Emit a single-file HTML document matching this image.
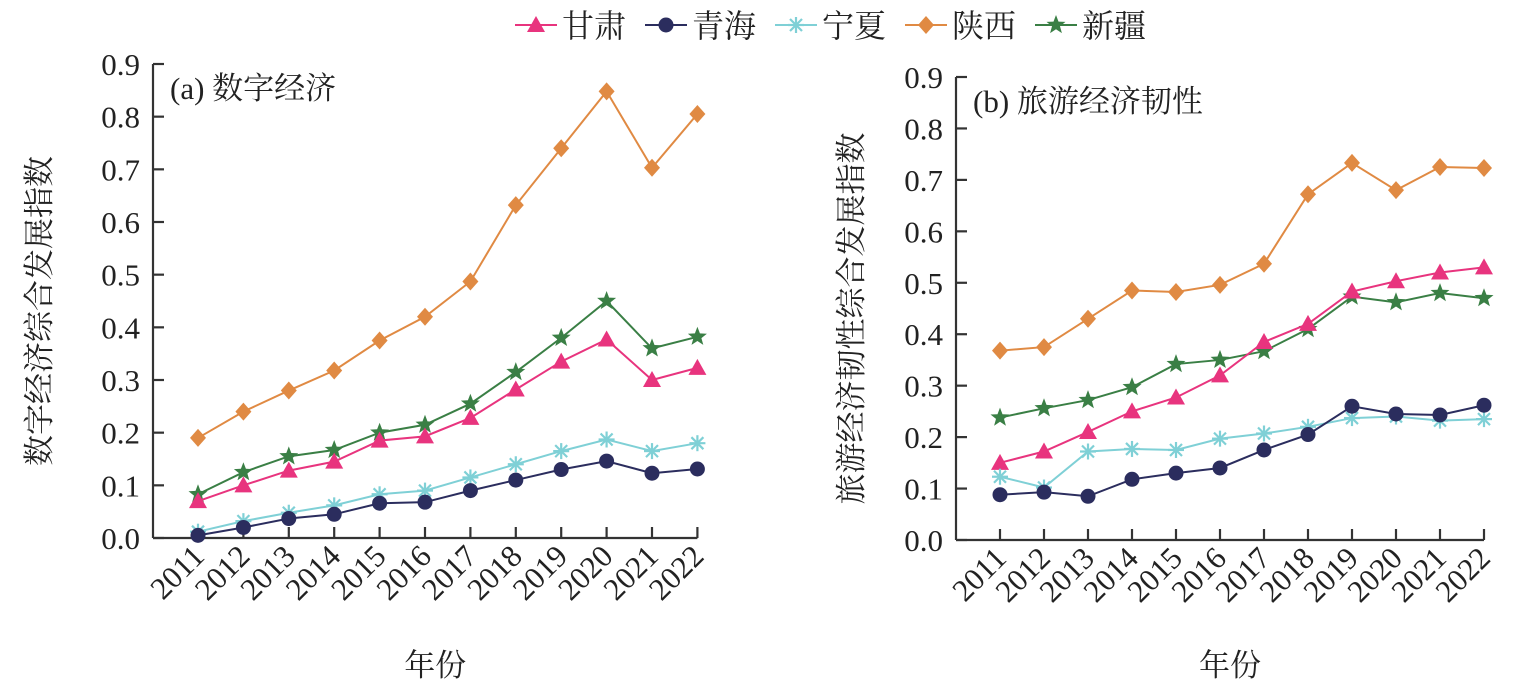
<!DOCTYPE html>
<html><head><meta charset="utf-8"><style>
html,body{margin:0;padding:0;background:#fff;}
svg{display:block;font-family:"Liberation Serif","Noto Serif CJK SC","Noto Serif CJK JP","Noto Serif CJK TC","Noto Sans CJK SC",serif;}
</style></head><body>
<svg id="s" width="1524" height="686" viewBox="0 0 1524 686" xmlns="http://www.w3.org/2000/svg"></svg>
<script>
const S=document.getElementById('s');let h='';
const C={g:'#e8347e',q:'#2b2d5e',n:'#7fd0d6',s:'#e08a43',x:'#3a7f45'};
function mk(t,x,y){
 if(t=='g')return `<polygon points="${x},${y-9} ${x-9},${y+7} ${x+9},${y+7}" fill="${C.g}"/>`;
 if(t=='q')return `<circle cx="${x}" cy="${y}" r="7.5" fill="${C.q}"/>`;
 if(t=='n'){let r=8;return `<g stroke="${C.n}" stroke-width="2.2"><line x1="${x-r}" y1="${y}" x2="${x+r}" y2="${y}"/><line x1="${x}" y1="${y-r}" x2="${x}" y2="${y+r}"/><line x1="${x-6}" y1="${y-6}" x2="${x+6}" y2="${y+6}"/><line x1="${x-6}" y1="${y+6}" x2="${x+6}" y2="${y-6}"/></g>`;}
 if(t=='s')return `<polygon points="${x},${y-9} ${x+8},${y} ${x},${y+9} ${x-8},${y}" fill="${C.s}"/>`;
 if(t=='x'){let p=[];for(let i=0;i<10;i++){let r=i%2?4.2:10,a=-Math.PI/2+i*Math.PI/5;p.push((x+r*Math.cos(a)).toFixed(1)+','+(y+r*Math.sin(a)).toFixed(1));}return `<polygon points="${p.join(' ')}" fill="${C.x}"/>`;}
}
function chart(o){
 const {ax,y0,y9,x0,dx,data,title,ytitle,ytx}=o;const per=(y0-y9)/9;const xe=x0+11*dx;
 h+=`<g stroke="#333" stroke-width="2.2" fill="none"><line x1="${ax}" y1="${y9}" x2="${ax}" y2="${y0}"/><line x1="${ax}" y1="${y0}" x2="${xe}" y2="${y0}"/>`;
 for(let i=0;i<=9;i++){let y=y0-i*per;h+=`<line x1="${ax}" y1="${y}" x2="${ax+11}" y2="${y}"/>`;}
 for(let i=0;i<12;i++){let x=x0+i*dx;h+=`<line x1="${x}" y1="${y0}" x2="${x}" y2="${y0-11}"/>`;}
 h+='</g>';
 for(let i=0;i<=9;i++){let y=y0-i*per;h+=`<text x="${ax-13}" y="${y+11}" font-size="31" text-anchor="end" fill="#222">${(i/10).toFixed(1)}</text>`;}
 for(let i=0;i<12;i++){let x=x0+i*dx+8,y=y0+20;h+=`<text transform="translate(${x},${y}) rotate(-45)" font-size="31" text-anchor="end" fill="#222">${2011+i}</text>`;}
 h+=`<text x="${ax+17}" y="${y9+35}" font-size="31" fill="#222">${title}</text>`;
 h+=`<text transform="translate(${ytx},${(y0+y9)/2+10}) rotate(-90)" font-size="31" text-anchor="middle" fill="#222">${ytitle}</text>`;
 h+=`<text x="${(ax+xe)/2+10}" y="676" font-size="31" text-anchor="middle" fill="#222">年份</text>`;
 for(const k of ['s','x','g','n','q']){
  const pts=data[k].map((v,i)=>[x0+i*dx,y0-v*per*10]);
  h+=`<polyline points="${pts.map(p=>p.join(',')).join(' ')}" fill="none" stroke="${C[k]}" stroke-width="2"/>`;
  pts.forEach(p=>h+=mk(k,p[0],p[1]));
 }
}
chart({ax:153,y0:538,y9:64,x0:198,dx:45.4,title:'(a) 数字经济',ytitle:'数字经济综合发展指数',ytx:50,data:{
 s:[0.19,0.24,0.28,0.318,0.375,0.42,0.487,0.632,0.74,0.848,0.703,0.805],
 x:[0.083,0.125,0.155,0.167,0.2,0.215,0.255,0.315,0.38,0.45,0.36,0.382],
 g:[0.07,0.1,0.128,0.145,0.185,0.193,0.228,0.282,0.335,0.377,0.3,0.323],
 n:[0.012,0.032,0.048,0.062,0.083,0.09,0.115,0.14,0.165,0.187,0.165,0.18],
 q:[0.005,0.02,0.037,0.045,0.066,0.068,0.09,0.11,0.13,0.146,0.123,0.131]}});
chart({ax:956,y0:540,y9:77,x0:1000,dx:44.0,title:'(b) 旅游经济韧性',ytitle:'旅游经济韧性综合发展指数',ytx:862,data:{
 s:[0.368,0.375,0.43,0.485,0.482,0.496,0.537,0.672,0.733,0.68,0.725,0.723],
 g:[0.15,0.172,0.21,0.25,0.277,0.32,0.385,0.42,0.483,0.503,0.52,0.53],
 x:[0.238,0.256,0.272,0.297,0.342,0.35,0.367,0.41,0.473,0.462,0.48,0.47],
 n:[0.123,0.102,0.172,0.177,0.175,0.197,0.207,0.22,0.237,0.24,0.232,0.235],
 q:[0.088,0.093,0.085,0.118,0.13,0.14,0.175,0.205,0.26,0.245,0.243,0.262]}});
const L=[['g','甘肃',515],['q','青海',645],['n','宁夏',775],['s','陕西',905],['x','新疆',1035]];
L.forEach(([k,t,x])=>{h+=`<line x1="${x}" y1="25" x2="${x+42}" y2="25" stroke="${C[k]}" stroke-width="2"/>`+mk(k,x+21,25)+`<text x="${x+47}" y="37" font-size="32" fill="#222">${t}</text>`;});
S.innerHTML=h;
</script>
</body></html>
